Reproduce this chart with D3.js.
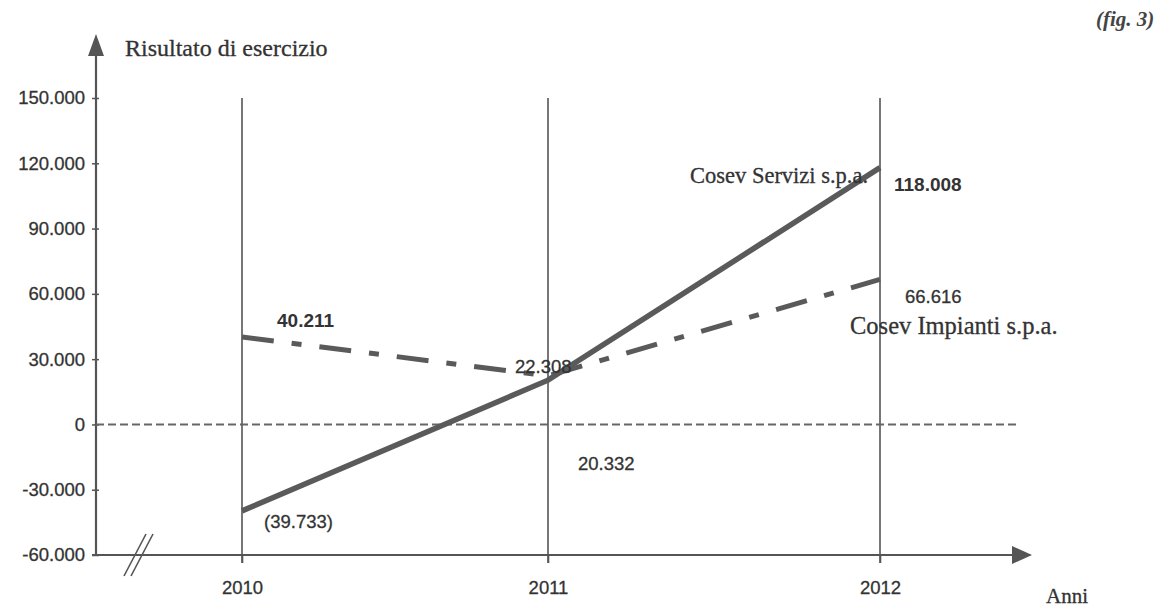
<!DOCTYPE html>
<html><head><meta charset="utf-8">
<script src="https://cdn.jsdelivr.net/npm/d3@7"></script>
<style>body{margin:0;background:#fff}svg{display:block}</style>
</head><body>
<svg id="c" width="1163" height="609"></svg>
<script>
const years = [2010, 2011, 2012];
const servizi = [-39733, 20332, 118008];
const impianti = [40211, 22308, 66616];
const yTicks = [-60000, -30000, 0, 30000, 60000, 90000, 120000, 150000];
const serviziLabels = ["(39.733)", "20.332", "118.008"];
const impiantiLabels = ["40.211", "22.308", "66.616"];

const svg = d3.select("#c");
const ink = "#555";
const loc = d3.formatLocale({decimal: ",", thousands: ".", grouping: [3], currency: ["€", ""], minus: "-"});
const fmt = loc.format(",");
const sans = "Liberation Sans, Arial, sans-serif";
const serifF = "Liberation Serif, Times New Roman, serif";

const y = d3.scaleLinear().domain([-60000, 150000]).range([555, 98]);
const x = d3.scaleLinear().domain(years).range([242, 548, 880]);
const axisX = 96;

// vertical gridlines at years
svg.append("g").selectAll("line").data(years).join("line")
  .attr("x1", d => x(d)).attr("x2", d => x(d))
  .attr("y1", y(150000)).attr("y2", y(-60000) + 8)
  .attr("stroke", ink).attr("stroke-width", 1.6);

// y axis
const gy = svg.append("g").attr("transform", `translate(${axisX},0)`)
  .call(d3.axisLeft(y).tickValues(yTicks).tickFormat(d => d === 0 ? "0" : fmt(d)).tickSize(6).tickSizeOuter(0));
gy.select(".domain").remove();
gy.selectAll(".tick line").attr("stroke", ink).attr("stroke-width", 1.5).attr("x2", 3).attr("x1", -4);
gy.selectAll(".tick text").attr("x", -11).attr("fill", "#333")
  .attr("font-family", sans).attr("font-size", 18.5).attr("stroke", "#333").attr("stroke-width", 0.3);
svg.append("line").attr("x1", axisX).attr("x2", axisX).attr("y1", y(-60000)).attr("y2", 50)
  .attr("stroke", ink).attr("stroke-width", 2.2);
svg.append("path").attr("d", `M${axisX - 8},56 L${axisX},34 L${axisX + 8},56 Z`).attr("fill", ink);
svg.append("text").attr("x", 125).attr("y", 56).text("Risultato di esercizio")
  .attr("font-family", serifF).attr("font-size", 24).attr("fill", "#333")
  .attr("stroke", "#333").attr("stroke-width", 0.3);

// x axis
const gx = svg.append("g").attr("transform", `translate(0,${y(-60000)})`)
  .call(d3.axisBottom(x).tickValues(years).tickFormat(d3.format("d")).tickSize(8).tickSizeOuter(0));
gx.select(".domain").remove();
gx.selectAll(".tick line").attr("stroke", ink).attr("stroke-width", 1.6);
gx.selectAll(".tick text").attr("y", 26).attr("fill", "#333")
  .attr("font-family", sans).attr("font-size", 18.5).attr("stroke", "#333").attr("stroke-width", 0.3);
svg.append("line").attr("x1", axisX - 4).attr("x2", 1018).attr("y1", y(-60000)).attr("y2", y(-60000))
  .attr("stroke", ink).attr("stroke-width", 2.2);
svg.append("path").attr("d", `M1012,${y(-60000)-9} L1032,${y(-60000)} L1012,${y(-60000)+9} Z`).attr("fill", ink);
svg.append("text").attr("x", 1046).attr("y", 603).text("Anni")
  .attr("font-family", serifF).attr("font-size", 21).attr("fill", "#333")
  .attr("stroke", "#333").attr("stroke-width", 0.3);

// axis break marks
[0, 7].forEach(o => svg.append("line").attr("x1", 124 + o).attr("y1", 576).attr("x2", 146 + o).attr("y2", 534)
  .attr("stroke", ink).attr("stroke-width", 1.6));

// zero line
svg.append("line").attr("x1", axisX).attr("x2", 1016).attr("y1", y(0)).attr("y2", y(0))
  .attr("stroke", "#666").attr("stroke-width", 2).attr("stroke-dasharray", "8,4");

const line = d3.line().x((d, i) => x(years[i])).y(d => y(d));
svg.append("path").datum(impianti).attr("d", line).attr("fill", "none")
  .attr("stroke", "#5a5a5a").attr("stroke-width", 5).attr("stroke-dasharray", "32,18,10,18");
svg.append("path").datum(servizi).attr("d", line).attr("fill", "none")
  .attr("stroke", "#5a5a5a").attr("stroke-width", 5.5);

// value labels
const lab = (t, xx, yy, bold) => svg.append("text").attr("x", xx).attr("y", yy).text(t)
  .attr("font-family", sans).attr("font-size", bold ? 19 : 18.5)
  .attr("font-weight", bold ? "bold" : "normal").attr("fill", "#333")
  .attr("stroke", "#333").attr("stroke-width", bold ? 0 : 0.3);
lab(impiantiLabels[0], x(2010) + 35, y(impianti[0]) - 10, true);
lab(impiantiLabels[1], x(2011) - 33, y(impianti[1]) - 3, false);
lab(impiantiLabels[2], x(2012) + 25, y(impianti[2]) + 24, false);
lab(serviziLabels[0], x(2010) + 22, y(servizi[0]) + 17, false);
lab(serviziLabels[1], x(2011) + 30, y(0) + 46, false);
lab(serviziLabels[2], x(2012) + 14, y(servizi[2]) + 23, true);

const serif = (t, xx, yy, fs) => svg.append("text").attr("x", xx).attr("y", yy).text(t)
  .attr("font-family", serifF).attr("font-size", fs).attr("fill", "#333")
  .attr("stroke", "#333").attr("stroke-width", 0.3);
serif("Cosev Servizi s.p.a.", 690, 183, 22.5);
serif("Cosev Impianti s.p.a.", 850, 334, 24.5);

svg.append("text").attr("x", 1096).attr("y", 26).text("(fig. 3)")
  .attr("font-family", serifF).attr("font-size", 21)
  .attr("font-style", "italic").attr("font-weight", "bold").attr("fill", "#444");
</script>
</body></html>
